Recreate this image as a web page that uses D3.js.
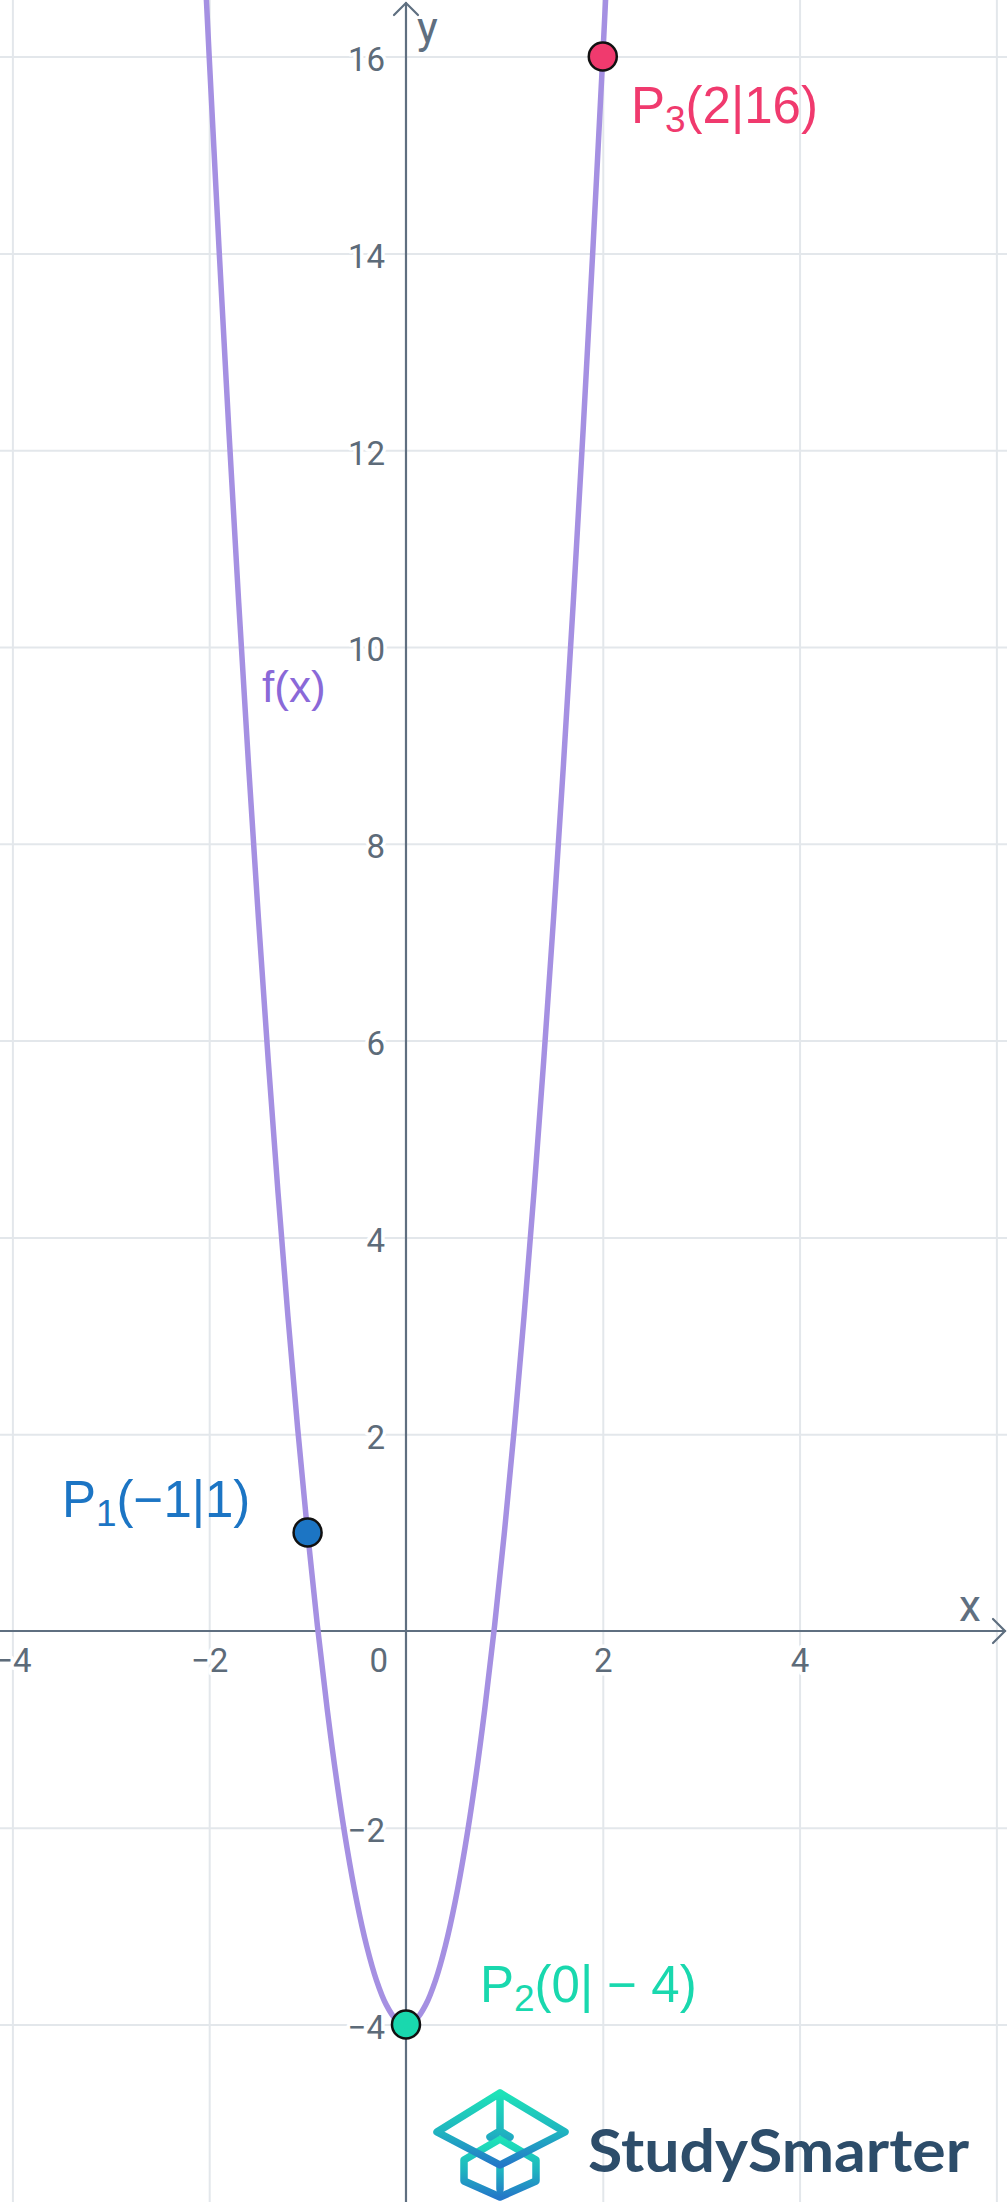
<!DOCTYPE html>
<html>
<head>
<meta charset="utf-8">
<script src="https://cdn.jsdelivr.net/npm/d3@7"></script>
<style>
  html, body { margin: 0; padding: 0; background: #ffffff; }
  svg { display: block; }
</style>
</head>
<body>
<svg id="chart" width="1007" height="2202"></svg>
<script>
// ---- data ----
const curveX = [-2.1, -2.0, -1.9, -1.8, -1.7, -1.6, -1.5, -1.4, -1.3, -1.2, -1.1, -1.0, -0.9, -0.8, -0.7, -0.6, -0.5, -0.4, -0.3, -0.2, -0.1, 0,
                0.1, 0.2, 0.3, 0.4, 0.5, 0.6, 0.7, 0.8, 0.9, 1.0, 1.1, 1.2, 1.3, 1.4, 1.5, 1.6, 1.7, 1.8, 1.9, 2.0, 2.1];
const curveY = [18.05, 16, 14.05, 12.2, 10.45, 8.8, 7.25, 5.8, 4.45, 3.2, 2.05, 1, 0.05, -0.8, -1.55, -2.2, -2.75, -3.2, -3.55, -3.8, -3.95, -4,
                -3.95, -3.8, -3.55, -3.2, -2.75, -2.2, -1.55, -0.8, 0.05, 1, 2.05, 3.2, 4.45, 5.8, 7.25, 8.8, 10.45, 12.2, 14.05, 16, 18.05];
const pointNames = ["P1", "P2", "P3"];
const pointX = [-1, 0, 2];
const pointY = [1, -4, 16];
const pointSub = ["1", "2", "3"];
const pointText = ["(\u22121|1)", "(0| \u2212 4)", "(2|16)"];
const xTicks = [-4, -2, 2, 4];
const yTicks = [-4, -2, 2, 4, 6, 8, 10, 12, 14, 16];
const xGrid = [-4, -2, 2, 4, 6];
const yGrid = [-4, -2, 2, 4, 6, 8, 10, 12, 14, 16];
const functionLabel = "f(x)";

// ---- layout ----
const W = 1007, H = 2202;
const svg = d3.select("#chart");
svg.append("rect").attr("width", W).attr("height", H).attr("fill", "#ffffff");

const x = d3.scaleLinear().domain([-4.126, 6.108]).range([0, W]);
const y = d3.scaleLinear().domain([-5.803, 16.575]).range([H, 0]);

const axisColor = "#5f6f80";
const gridColor = "#e3e7eb";
const tickColor = "#5d6b79";
const fontTick = "Roboto, 'Liberation Sans', sans-serif";

// grid
const grid = svg.append("g");
grid.append("g").attr("transform", `translate(0,${H})`)
  .call(d3.axisBottom(x).tickValues(xGrid).tickSize(-H).tickFormat(""))
  .call(g => g.select(".domain").remove())
  .call(g => g.selectAll("line").attr("stroke", gridColor).attr("stroke-width", 2));
grid.append("g")
  .call(d3.axisLeft(y).tickValues(yGrid).tickSize(-W).tickFormat(""))
  .call(g => g.select(".domain").remove())
  .call(g => g.selectAll("line").attr("stroke", gridColor).attr("stroke-width", 2));

const fmt = d => d < 0 ? "\u2212" + Math.abs(d) : String(d);

// tick labels (with white halo)
const yAx = svg.append("g").attr("transform", `translate(${x(0)},0)`)
  .call(d3.axisLeft(y).tickValues(yTicks).tickSize(0).tickPadding(21).tickFormat(fmt));
yAx.select(".domain").remove();
yAx.selectAll("text").attr("dy", "0.42em");

const xAx = svg.append("g").attr("transform", `translate(0,${y(0)})`)
  .call(d3.axisBottom(x).tickValues(xTicks).tickSize(0).tickPadding(18).tickFormat(fmt));
xAx.select(".domain").remove();

[yAx, xAx].forEach(a => a.selectAll("text")
  .attr("font-family", fontTick).attr("font-size", 33).attr("fill", tickColor)
  .attr("stroke", "#ffffff").attr("stroke-width", 7).attr("paint-order", "stroke")
  .attr("stroke-linejoin", "round"));

svg.append("text").attr("x", x(0) - 18).attr("y", y(0) + 18).attr("dy", "0.71em")
  .attr("text-anchor", "end").attr("font-family", fontTick).attr("font-size", 33)
  .attr("fill", tickColor).text("0");

// axes lines with arrows
const axes = svg.append("g").attr("stroke", axisColor).attr("stroke-width", 2.2).attr("fill", "none")
  .attr("stroke-linecap", "round");
axes.append("line").attr("x1", x(0)).attr("x2", x(0)).attr("y1", H).attr("y2", 3);
axes.append("path").attr("d", `M${x(0) - 12},15 L${x(0)},3 L${x(0) + 12},15`);
axes.append("line").attr("x1", 0).attr("x2", W - 2).attr("y1", y(0)).attr("y2", y(0));
axes.append("path").attr("d", `M${W - 14},${y(0) - 12} L${W - 2},${y(0)} L${W - 14},${y(0) + 12}`);

svg.append("text").attr("x", x(0) + 11).attr("y", 43).attr("font-family", fontTick)
  .attr("font-size", 44).attr("fill", axisColor).text("y");
svg.append("text").attr("x", 959).attr("y", 1621).attr("font-family", fontTick)
  .attr("font-size", 44).attr("fill", axisColor).text("x");

// curve
const curveData = curveX.map((v, i) => [v, curveY[i]]);
svg.append("clipPath").attr("id", "clip").append("rect").attr("width", W).attr("height", H);
svg.append("path")
  .datum(curveData)
  .attr("clip-path", "url(#clip)")
  .attr("fill", "none")
  .attr("stroke", "#a590e2")
  .attr("stroke-width", 5.5)
  .attr("d", d3.line().x(d => x(d[0])).y(d => y(d[1])).curve(d3.curveCatmullRom.alpha(0.5)));

svg.append("text").attr("x", 262).attr("y", 702)
  .attr("font-family", "'Liberation Sans', sans-serif").attr("font-size", 44)
  .attr("fill", "#8a69d8").text(functionLabel);

// points
const pointColors = ["#1c75c4", "#19d8ae", "#f03a6e"];
const labelPos = [[62, 1517], [480, 2002], [631, 123]];
svg.append("g").selectAll("circle").data(pointX).join("circle")
  .attr("cx", d => x(d)).attr("cy", (d, i) => y(pointY[i])).attr("r", 14)
  .attr("fill", (d, i) => pointColors[i]).attr("stroke", "#111111").attr("stroke-width", 2.5);

// point labels
pointNames.forEach((n, i) => {
  const t = svg.append("text")
    .attr("x", labelPos[i][0]).attr("y", labelPos[i][1])
    .attr("font-family", "'Liberation Sans', sans-serif").attr("font-size", 51)
    .attr("fill", pointColors[i]);
  t.append("tspan").text(n.charAt(0));
  t.append("tspan").attr("font-size", 37).attr("dy", 9).text(pointSub[i]);
  t.append("tspan").attr("dy", -9).text(pointText[i]);
});

// logo
const defs = svg.append("defs");
const grad = defs.append("linearGradient").attr("id", "lg").attr("x1", 0).attr("y1", 0).attr("x2", 0).attr("y2", 1)
  .attr("gradientUnits", "objectBoundingBox");
grad.append("stop").attr("offset", "0%").attr("stop-color", "#1ee3b8");
grad.append("stop").attr("offset", "55%").attr("stop-color", "#1fb3c0");
grad.append("stop").attr("offset", "100%").attr("stop-color", "#2478c8");
const logo = svg.append("g").attr("transform", "translate(500,2093)")
  .attr("fill", "none").attr("stroke", "url(#lg)").attr("stroke-width", 7.5)
  .attr("stroke-linejoin", "round").attr("stroke-linecap", "round");
logo.append("path").attr("d", "M0,46 L-36,67 L-36,88 L0,104 L36,88 L36,67 Z M0,72 L0,96");
logo.append("path").attr("d", "M0,0 L65,39 L0,72 L-63,39 Z M0,0 L0,38 L-10,44 M0,38 L10,44");

svg.append("text").attr("x", 588).attr("y", 2172)
  .attr("font-family", "Lato, 'Open Sans', sans-serif").attr("font-weight", 700)
  .attr("font-size", 60).attr("fill", "#2d4d6a")
  .attr("textLength", 381).attr("lengthAdjust", "spacingAndGlyphs")
  .text("StudySmarter");
</script>
</body>
</html>
